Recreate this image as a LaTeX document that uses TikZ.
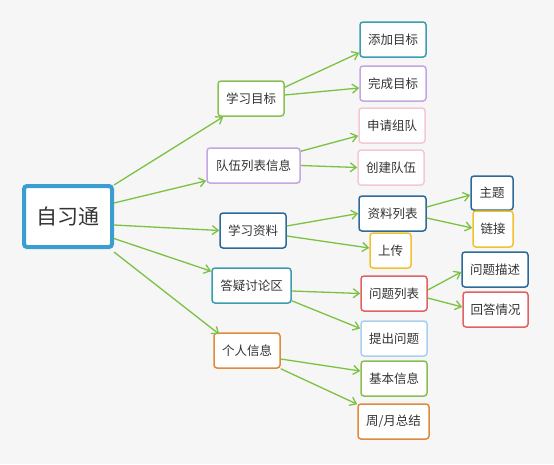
\documentclass[tikz,border=0pt]{standalone}
\usepackage{fontspec}
\setmainfont{Noto Sans CJK SC}
\usetikzlibrary{arrows.meta,calc}
\definecolor{bgc}{HTML}{F6F6F6}
\definecolor{edgec}{HTML}{7CC242}
\definecolor{txt}{HTML}{333333}
\definecolor{rootc}{HTML}{3A9FD0}
\definecolor{greenc}{HTML}{8BBF56}
\definecolor{purplec}{HTML}{C4A6E2}
\definecolor{darkbluec}{HTML}{2D6A9A}
\definecolor{tealc}{HTML}{3A9DB2}
\definecolor{orangec}{HTML}{E08A3C}
\definecolor{pinkc}{HTML}{F5C8D3}
\definecolor{yellowc}{HTML}{F2C12E}
\definecolor{redc}{HTML}{E06262}
\definecolor{lightbluec}{HTML}{A9D0F2}
\tikzset{
  box/.style={draw=#1, line width=1.5pt, rounded corners=3pt, fill=white, text=txt,
    font=\fontsize{12.5}{14}\selectfont, inner sep=0pt, minimum height=35pt, align=center},
  conn/.style={draw=edgec, line width=1.3pt, -{Straight Barb[length=6pt,width=9pt]}},
}
\begin{document}
\begin{tikzpicture}[x=1pt,y=-1pt]
\fill[bgc] (0,0) rectangle (554,464);
\useasboundingbox (0,0) rectangle (554,464);
% root
\node[box=rootc, line width=4pt, minimum width=88pt, minimum height=61pt, font=\fontsize{21}{24}\selectfont] (root) at (68,216.5) {自习通};
% level 1
\node[box=greenc, minimum width=66pt] (xxmb) at (251,98.5) {学习目标};
\node[box=purplec, minimum width=93pt] (dwlb) at (253.5,165.5) {队伍列表信息};
\node[box=darkbluec, minimum width=66pt] (xxzl) at (253,230.5) {学习资料};
\node[box=tealc, minimum width=79pt] (dytl) at (251.5,285.5) {答疑讨论区};
\node[box=orangec, minimum width=66pt] (grxx) at (247,350.5) {个人信息};
% level 2
\node[box=tealc, minimum width=66pt] (tjmb) at (393,39.5) {添加目标};
\node[box=purplec, minimum width=66pt] (wcmb) at (393,83.5) {完成目标};
\node[box=pinkc, minimum width=66pt] (sqzd) at (392,125.5) {申请组队};
\node[box=pinkc, minimum width=66pt] (cjdw) at (391,167.5) {创建队伍};
\node[box=darkbluec, minimum width=67pt] (zllb) at (392.5,213.5) {资料列表};
\node[box=yellowc, minimum width=41pt] (sc) at (390.5,250.5) {上传};
\node[box=redc, minimum width=66pt] (wtlb) at (394,293.5) {问题列表};
\node[box=lightbluec, minimum width=66pt] (tcwt) at (394,338.5) {提出问题};
\node[box=greenc, minimum width=66pt] (jbxx) at (394,378.5) {基本信息};
\node[box=orangec, minimum width=71pt] (zyzj) at (393.5,421.5) {周/月总结};
% level 3
\node[box=darkbluec, minimum width=42pt, minimum height=34pt] (zt) at (492,193) {主题};
\node[box=yellowc, minimum width=40pt, minimum height=36pt] (lj) at (493,229) {链接};
\node[box=darkbluec, minimum width=66pt] (wtms) at (495,269.5) {问题描述};
\node[box=redc, minimum width=65pt] (hdqk) at (495.5,309.5) {回答情况};
% connectors (offsets: positive y = downwards)
\draw[conn] ($(root.north east)+(0,1)$) -- ($(xxmb.south west)+(6,0)$);
\draw[conn] ($(root.north east)+(0,19)$) -- ($(dwlb.south west)+(0,-3)$);
\draw[conn] ($(root.east)+(0,8.5)$) -- (xxzl.west);
\draw[conn] ($(root.east)+(0,22)$) -- ($(dytl.north west)+(0,4)$);
\draw[conn] ($(root.south east)+(0,3)$) -- ($(grxx.north west)+(6,2)$);
\draw[conn] ($(xxmb.north east)+(0,7)$) -- ($(tjmb.south west)+(0,-5)$);
\draw[conn] ($(xxmb.east)+(0,-3.5)$) -- ($(wcmb.west)+(0,4.5)$);
\draw[conn] ($(dwlb.north east)+(0,4)$) -- ($(sqzd.south west)+(0,-8)$);
\draw[conn] (dwlb.east) -- (cjdw.west);
\draw[conn] ($(xxzl.east)+(0,-4.5)$) -- (zllb.west);
\draw[conn] ($(xxzl.east)+(0,5.5)$) -- ($(sc.west)+(0,-2.5)$);
\draw[conn] ($(zllb.east)+(0,-6.5)$) -- ($(zt.west)+(0,2)$);
\draw[conn] ($(zllb.east)+(0,4.5)$) -- ($(lj.west)+(0,-1)$);
\draw[conn] ($(dytl.east)+(0,5.5)$) -- (wtlb.west);
\draw[conn] ($(dytl.south east)+(0,-3)$) -- ($(tcwt.west)+(0,-10)$);
\draw[conn] ($(wtlb.east)+(0,-3.5)$) -- ($(wtms.west)+(0,2.5)$);
\draw[conn] ($(wtlb.east)+(0,4.5)$) -- ($(hdqk.west)+(0,-2.5)$);
\draw[conn] ($(grxx.east)+(0,8.5)$) -- ($(jbxx.west)+(0,-7.5)$);
\draw[conn] (grxx.south east) -- ($(zyzj.north west)+(0,1)$);
\end{tikzpicture}
\end{document}
